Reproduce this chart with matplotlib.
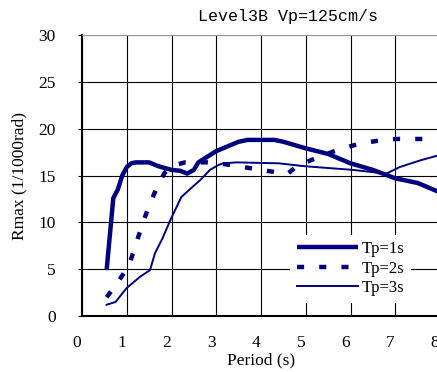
import numpy as np
import matplotlib
matplotlib.use('Agg')
import matplotlib.pyplot as plt
import matplotlib.transforms as mtransforms

# Datos
t1 = [0.55, 0.7, 0.8, 0.9, 1.0, 1.1, 1.2, 1.5, 1.7, 2.0, 2.2, 2.35, 2.5, 2.6,
      2.8, 3.0, 3.2, 3.5, 3.7, 4.0, 4.3, 4.5, 5.0, 5.5, 6.0, 6.5, 7.0, 7.5, 8.0]
r1 = [4.9, 12.6, 13.5, 15.0, 15.9, 16.3, 16.4, 16.4, 16.0, 15.6, 15.5, 15.2,
      15.6, 16.4, 17.0, 17.6, 18.0, 18.6, 18.8, 18.8, 18.8, 18.6, 17.9, 17.3,
      16.3, 15.6, 14.7, 14.2, 13.2]

t2 = [0.55, 0.8, 1.05, 1.2, 1.35, 1.5, 1.7, 1.85, 2.0, 2.3, 2.8, 3.2, 3.6,
      4.0, 4.4, 4.6, 4.8, 5.3, 5.7, 6.2, 6.6, 7.0, 8.0]
r2 = [2.0, 3.6, 5.4, 7.6, 9.8, 11.8, 14.0, 15.3, 16.0, 16.4, 16.4, 16.2, 15.9,
      15.6, 15.3, 15.2, 16.0, 17.0, 17.7, 18.4, 18.7, 18.9, 18.9]

t3 = [0.55, 0.75, 1.0, 1.3, 1.52, 1.63, 1.8, 1.97, 2.22, 2.45, 2.64, 2.86,
      3.04, 3.15, 3.45, 4.4, 4.95, 6.05, 6.8, 7.1, 7.55, 8.0]
r3 = [1.2, 1.5, 3.0, 4.2, 4.9, 6.7, 8.3, 10.2, 12.7, 13.7, 14.5, 15.6,
      16.1, 16.3, 16.4, 16.3, 16.0, 15.6, 15.2, 15.9, 16.6, 17.2]

etiquetas = ['Tp=1s', 'Tp=2s', 'Tp=3s']
azul = '#00007f'

plt.rcParams['font.family'] = 'Liberation Serif'

fig = plt.figure(figsize=(4.37, 3.72), dpi=100)
ax = fig.add_axes([82 / 437, 56 / 372, 358 / 437, 281 / 372])

ax.plot(t1, r1, color=azul, lw=3.2, label=etiquetas[0], solid_capstyle='butt')
ax.plot(t2, r2, color=azul, lw=3.2, label=etiquetas[1],
        linestyle=(0, (1.6, 3.4)), dash_capstyle='butt')
ax.plot(t3, r3, color=azul, lw=1.4, label=etiquetas[2])

ax.set_xlim(0, 8)
ax.set_ylim(0, 30)
ax.set_xticks(np.arange(0, 9, 1))
ax.set_yticks(np.arange(0, 31, 5))
ax.grid(True, color='black', lw=0.8)
ax.set_axisbelow(True)

ax.spines['top'].set_color('#999999')
ax.spines['right'].set_visible(False)
ax.spines['left'].set_linewidth(1.5)
ax.spines['bottom'].set_linewidth(1.5)
ax.tick_params(axis='y', length=3, pad=16, labelsize=12.5)
ax.tick_params(axis='x', length=0, pad=14, labelsize=12.5)

# las etiquetas del eje x estan corridas a la izquierda
desp = mtransforms.ScaledTranslation(-5 / 100, 0, fig.dpi_scale_trans)
for lab in ax.get_xticklabels():
    lab.set_transform(lab.get_transform() + desp)

ax.set_xlabel('Period (s)', fontsize=12.5, labelpad=1)
ax.set_ylabel('Rmax (1/1000rad)', fontsize=12.5, labelpad=8)

fig.text(288 / 437, 1 - 17 / 372, 'Level3B Vp=125cm/s', ha='center',
         va='center', family='Liberation Mono', fontsize=12)

leg = ax.legend(loc='upper left', bbox_to_anchor=(0.581, 0.29),
                borderaxespad=0, frameon=True, fancybox=False,
                edgecolor='none', framealpha=1, fontsize=12,
                handlelength=3.7, handletextpad=0.2, labelspacing=0.2)

fig.savefig('out.png', dpi=100)
